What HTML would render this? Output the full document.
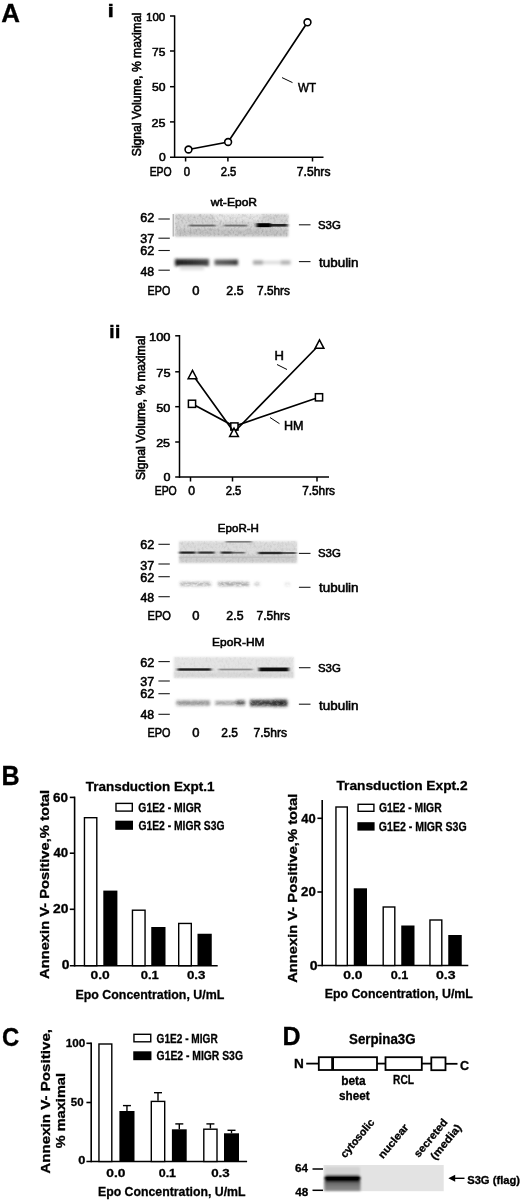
<!DOCTYPE html>
<html><head><meta charset="utf-8"><style>
html,body{margin:0;padding:0;background:#fff;overflow:hidden;}
svg{display:block;filter:blur(0.35px);}
text{font-family:"Liberation Sans", sans-serif;fill:#000;}
</style></head><body>
<svg width="520" height="1200" viewBox="0 0 520 1200">
<defs>
<filter id="bl1" x="-10%" y="-30%" width="120%" height="160%"><feGaussianBlur stdDeviation="0.8"/></filter>
<filter id="bl2" x="-20%" y="-100%" width="140%" height="300%"><feGaussianBlur stdDeviation="0.9"/></filter>
<filter id="bl3" x="-20%" y="-100%" width="140%" height="300%"><feGaussianBlur stdDeviation="1.4"/></filter>
<linearGradient id="gtub1" x1="0" x2="1" y1="0" y2="0"><stop offset="0" stop-color="#1c1c1c"/><stop offset="0.5" stop-color="#2e2e2e"/><stop offset="1" stop-color="#484848"/></linearGradient>
<linearGradient id="gtub2" x1="0" x2="1" y1="0" y2="0"><stop offset="0" stop-color="#626262"/><stop offset="0.7" stop-color="#4a4a4a"/><stop offset="1" stop-color="#303030"/></linearGradient>
<filter id="bl4" x="-20%" y="-200%" width="140%" height="500%"><feGaussianBlur stdDeviation="1.6 0.55"/></filter>
<linearGradient id="gsm" x1="0" x2="0" y1="0" y2="1"><stop offset="0" stop-color="#5a5a5a"/><stop offset="0.5" stop-color="#7a7a7a"/><stop offset="1" stop-color="#8e8e8e"/></linearGradient>
<filter id="nzw" x="0" y="0" width="100%" height="100%">
<feTurbulence type="fractalNoise" baseFrequency="0.3 0.45" numOctaves="3" seed="19" result="t"/>
<feColorMatrix in="t" type="matrix" values="0 0 0 0 1  0 0 0 0 1  0 0 0 0 1  0 0 0 2.2 -0.9" result="a"/>
<feComposite in="a" in2="SourceGraphic" operator="in"/>
</filter>
<filter id="nz" x="0" y="0" width="100%" height="100%">
<feTurbulence type="fractalNoise" baseFrequency="0.5 0.35" numOctaves="2" seed="11" result="t"/>
<feGaussianBlur in="t" stdDeviation="0.35" result="tb"/>
<feColorMatrix in="tb" type="matrix" values="0 0 0 0 0  0 0 0 0 0  0 0 0 0 0  0 0 0 1.5 -0.62" result="a"/>
<feComposite in="a" in2="SourceGraphic" operator="in"/>
</filter>
</defs>
<rect width="520" height="1200" fill="#fff"/>
<g filter="url(#bl1)">
<rect x="174.5" y="214" width="114" height="22.5" fill="#d4d4d4"/>
<rect x="214" y="214" width="48" height="7" fill="#e4e4e4"/>
<rect x="176" y="229" width="112" height="7.5" fill="#c4c4c4"/>
</g>
<rect x="174.5" y="214" width="114" height="22.5" fill="#000" filter="url(#nz)" opacity="0.22"/>
<line x1="173.2" y1="214" x2="173.2" y2="236.5" stroke="#888" stroke-width="0.8"/>
<g filter="url(#bl4)">
<rect x="189" y="224.6" width="26.5" height="1.9" fill="#6a6a6a"/>
<rect x="224" y="224.6" width="23" height="1.9" fill="#707070"/>
<rect x="256.5" y="223.2" width="14.5" height="4" fill="#000"/>
<rect x="270.5" y="224" width="17" height="2.6" fill="#222"/>
</g>
<g filter="url(#bl3)">
<rect x="175" y="259" width="34" height="7" fill="url(#gtub1)"/>
<rect x="214.5" y="259.6" width="23.5" height="5.6" fill="url(#gtub2)"/>
<rect x="253" y="260.5" width="10" height="4" fill="#a0a0a0"/>
<rect x="263" y="261" width="17" height="3" fill="#d8d8d8"/>
<rect x="280.5" y="260.5" width="10" height="4" fill="#acacac"/>
<rect x="180" y="267" width="24" height="3" fill="#dcdcdc"/>
</g>
<g filter="url(#bl1)">
<rect x="179" y="541.2" width="118" height="21.8" fill="#dcdcdc"/>
<rect x="179" y="555" width="118" height="8" fill="#cfcfcf"/>
</g>
<rect x="179" y="541.2" width="118" height="21.8" fill="#000" filter="url(#nz)" opacity="0.12"/>
<g filter="url(#bl4)">
<rect x="179.5" y="551.5" width="16" height="2.2" fill="#222"/>
<rect x="198" y="551.5" width="16.5" height="2.2" fill="#333"/>
<rect x="220.8" y="551.5" width="11.5" height="2.2" fill="#2a2a2a"/>
<rect x="232" y="551.8" width="13" height="1.8" fill="#666"/>
<rect x="258.3" y="551.8" width="24" height="2.4" fill="#2a2a2a"/>
<rect x="282" y="552" width="14" height="2" fill="#555"/>
<rect x="180" y="556.6" width="115" height="1.2" fill="#bdbdbd"/>
<rect x="225.8" y="541.2" width="26" height="1.3" fill="#666"/>
</g>
<g filter="url(#bl3)">
<rect x="180" y="582" width="31" height="4" fill="#b0b0b0"/>
<rect x="218" y="582" width="31" height="4" fill="#a0a0a0"/>
<rect x="254.5" y="582.5" width="5" height="3" fill="#bbb"/>
<rect x="285.5" y="583" width="4" height="2.5" fill="#ccc"/>
</g>
<rect x="178" y="579" width="114" height="9" fill="#fff" filter="url(#nzw)" opacity="0.7"/>
<g filter="url(#bl1)">
<rect x="173.8" y="657" width="120" height="21" fill="#e4e4e4"/>
<rect x="173.8" y="672" width="120" height="6" fill="#d9d9d9"/>
</g>
<rect x="173.8" y="657" width="120" height="21" fill="#000" filter="url(#nz)" opacity="0.07"/>
<g filter="url(#bl4)">
<rect x="177.5" y="668.3" width="33.7" height="2.4" fill="#1a1a1a"/>
<rect x="218.8" y="668.6" width="33.7" height="1.8" fill="#8a8a8a"/>
<rect x="258.8" y="667.5" width="30" height="3.8" fill="#111"/>
</g>
<g filter="url(#bl3)">
<rect x="176.3" y="700.5" width="33.7" height="5" fill="#8f8f8f"/>
<rect x="215" y="701" width="22" height="4" fill="#999"/>
<rect x="236" y="700.3" width="9" height="5" fill="#555"/>
<rect x="250" y="699.8" width="37.5" height="6.4" fill="#3a3a3a"/>
<rect x="272" y="699.8" width="15" height="6.5" fill="#262626"/>
</g>
<rect x="174" y="697" width="116" height="12" fill="#fff" filter="url(#nzw)" opacity="0.3"/>
<rect x="323.5" y="1165" width="120.2" height="26.2" fill="#e3e3e3"/>
<g filter="url(#bl2)">
<rect x="325" y="1167" width="35" height="8" fill="#d2d2d2"/>
<rect x="324.5" y="1181" width="36" height="10" fill="url(#gsm)"/>
<rect x="324.5" y="1175" width="36" height="6.8" rx="3" fill="#030303"/>
</g>
<text x="1.15" y="21.5" font-size="26.6" font-weight="bold" stroke="#000" stroke-width="0.3" textLength="18.73" lengthAdjust="spacingAndGlyphs">A</text>
<text x="107.47" y="16.8" font-size="18.6" font-weight="bold" stroke="#000" stroke-width="0.3" textLength="6.48" lengthAdjust="spacingAndGlyphs">i</text>
<line x1="174.6" y1="15.4" x2="174.6" y2="157.9" stroke="#000" stroke-width="1.5"/>
<line x1="170" y1="157.2" x2="323.5" y2="157.2" stroke="#000" stroke-width="1.5"/>
<line x1="170" y1="16" x2="174.6" y2="16" stroke="#000" stroke-width="1.5"/>
<line x1="170" y1="51" x2="174.6" y2="51" stroke="#000" stroke-width="1.5"/>
<line x1="170" y1="86.7" x2="174.6" y2="86.7" stroke="#000" stroke-width="1.5"/>
<line x1="170" y1="121.9" x2="174.6" y2="121.9" stroke="#000" stroke-width="1.5"/>
<line x1="185.6" y1="157" x2="185.6" y2="161.5" stroke="#000" stroke-width="1.5"/>
<line x1="227.9" y1="157" x2="227.9" y2="161.5" stroke="#000" stroke-width="1.5"/>
<line x1="312.5" y1="157" x2="312.5" y2="161.5" stroke="#000" stroke-width="1.5"/>
<text x="146.02" y="20.8" font-size="11.8" stroke="#000" stroke-width="0.55" textLength="19.23" lengthAdjust="spacingAndGlyphs">100</text>
<text x="151.99" y="56.3" font-size="11.8" stroke="#000" stroke-width="0.55" textLength="13.32" lengthAdjust="spacingAndGlyphs">75</text>
<text x="151.91" y="91.3" font-size="11.8" stroke="#000" stroke-width="0.55" textLength="13.56" lengthAdjust="spacingAndGlyphs">50</text>
<text x="151.57" y="126.7" font-size="11.8" stroke="#000" stroke-width="0.55" textLength="13.96" lengthAdjust="spacingAndGlyphs">25</text>
<text x="158.93" y="161.3" font-size="11.8" stroke="#000" stroke-width="0.55" textLength="6.75" lengthAdjust="spacingAndGlyphs">0</text>
<text x="149.64" y="175.9" font-size="12" stroke="#000" stroke-width="0.55" textLength="22.06" lengthAdjust="spacingAndGlyphs">EPO</text>
<text x="183.76" y="175.9" font-size="12" stroke="#000" stroke-width="0.55" textLength="6.28" lengthAdjust="spacingAndGlyphs">0</text>
<text x="220.63" y="175.9" font-size="12" stroke="#000" stroke-width="0.55" textLength="15.64" lengthAdjust="spacingAndGlyphs">2.5</text>
<text x="296.88" y="175.9" font-size="12" stroke="#000" stroke-width="0.55" textLength="33.56" lengthAdjust="spacingAndGlyphs">7.5hrs</text>
<text transform="translate(140.5 155.6) rotate(-90)" x="-0.55" y="0" font-size="12.2" stroke="#000" stroke-width="0.6" textLength="143.25" lengthAdjust="spacingAndGlyphs">Signal Volume, % maximal</text>
<polyline points="188.5,149.5 228.1,142 307.5,22.3" fill="none" stroke="#000" stroke-width="1.7"/>
<circle cx="188.5" cy="149.5" r="3.4" fill="#fff" stroke="#000" stroke-width="1.6"/>
<circle cx="228.1" cy="142" r="3.4" fill="#fff" stroke="#000" stroke-width="1.6"/>
<circle cx="307.5" cy="22.3" r="3.4" fill="#fff" stroke="#000" stroke-width="1.6"/>
<line x1="282" y1="77.6" x2="292.5" y2="82.6" stroke="#000" stroke-width="1.0"/>
<text x="297.95" y="92" font-size="13.5" stroke="#000" stroke-width="0.55" textLength="18.07" lengthAdjust="spacingAndGlyphs">WT</text>
<text x="210.82" y="205.7" font-size="11.5" stroke="#000" stroke-width="0.55" textLength="46.24" lengthAdjust="spacingAndGlyphs">wt-EpoR</text>
<text x="140.16" y="222.3" font-size="12.2" stroke="#000" stroke-width="0.55" textLength="14.08" lengthAdjust="spacingAndGlyphs">62</text>
<line x1="158.4" y1="219.0" x2="169.8" y2="219.0" stroke="#1a1a1a" stroke-width="1.1"/>
<text x="140.32" y="243" font-size="12.2" stroke="#000" stroke-width="0.55" textLength="13.90" lengthAdjust="spacingAndGlyphs">37</text>
<line x1="158.4" y1="238.2" x2="169.8" y2="238.2" stroke="#1a1a1a" stroke-width="1.1"/>
<text x="140.16" y="255" font-size="12.2" stroke="#000" stroke-width="0.55" textLength="14.08" lengthAdjust="spacingAndGlyphs">62</text>
<line x1="158.4" y1="250.5" x2="169.8" y2="250.5" stroke="#1a1a1a" stroke-width="1.1"/>
<text x="140.52" y="275.8" font-size="12.2" stroke="#000" stroke-width="0.55" textLength="13.61" lengthAdjust="spacingAndGlyphs">48</text>
<line x1="158.4" y1="270.2" x2="169.8" y2="270.2" stroke="#1a1a1a" stroke-width="1.1"/>
<line x1="298.9" y1="224.8" x2="310.5" y2="224.8" stroke="#1a1a1a" stroke-width="1.1"/>
<text x="317.98" y="228.6" font-size="11.3" stroke="#000" stroke-width="0.55" textLength="22.87" lengthAdjust="spacingAndGlyphs">S3G</text>
<line x1="298.9" y1="261.6" x2="310.5" y2="261.6" stroke="#1a1a1a" stroke-width="1.1"/>
<text x="319.00" y="266.6" font-size="12.3" stroke="#000" stroke-width="0.55" textLength="39.58" lengthAdjust="spacingAndGlyphs">tubulin</text>
<text x="147.62" y="294.7" font-size="12" stroke="#000" stroke-width="0.55" textLength="22.59" lengthAdjust="spacingAndGlyphs">EPO</text>
<text x="192.29" y="294.7" font-size="12" stroke="#000" stroke-width="0.55" textLength="7.21" lengthAdjust="spacingAndGlyphs">0</text>
<text x="226.38" y="294.7" font-size="12" stroke="#000" stroke-width="0.55" textLength="17.14" lengthAdjust="spacingAndGlyphs">2.5</text>
<text x="257.09" y="294.7" font-size="12" stroke="#000" stroke-width="0.55" textLength="32.83" lengthAdjust="spacingAndGlyphs">7.5hrs</text>
<text x="109.05" y="337.7" font-size="19.2" font-weight="bold" stroke="#000" stroke-width="0.3" textLength="11.51" lengthAdjust="spacingAndGlyphs">ii</text>
<line x1="179.5" y1="335" x2="179.5" y2="477.9" stroke="#000" stroke-width="1.5"/>
<line x1="175.2" y1="477.1" x2="329" y2="477.1" stroke="#000" stroke-width="1.5"/>
<line x1="175.2" y1="335.8" x2="179.5" y2="335.8" stroke="#000" stroke-width="1.5"/>
<line x1="175.2" y1="371.8" x2="179.5" y2="371.8" stroke="#000" stroke-width="1.5"/>
<line x1="175.2" y1="406.7" x2="179.5" y2="406.7" stroke="#000" stroke-width="1.5"/>
<line x1="175.2" y1="442" x2="179.5" y2="442" stroke="#000" stroke-width="1.5"/>
<line x1="190.5" y1="477" x2="190.5" y2="481.5" stroke="#000" stroke-width="1.5"/>
<line x1="232.5" y1="477" x2="232.5" y2="481.5" stroke="#000" stroke-width="1.5"/>
<line x1="317" y1="477" x2="317" y2="481.5" stroke="#000" stroke-width="1.5"/>
<text x="149.02" y="341.3" font-size="11.8" stroke="#000" stroke-width="0.55" textLength="21.48" lengthAdjust="spacingAndGlyphs">100</text>
<text x="156.35" y="376.7" font-size="11.8" stroke="#000" stroke-width="0.55" textLength="14.19" lengthAdjust="spacingAndGlyphs">75</text>
<text x="156.29" y="412" font-size="11.8" stroke="#000" stroke-width="0.55" textLength="14.10" lengthAdjust="spacingAndGlyphs">50</text>
<text x="156.17" y="447.4" font-size="11.8" stroke="#000" stroke-width="0.55" textLength="13.85" lengthAdjust="spacingAndGlyphs">25</text>
<text x="163.41" y="481" font-size="11.8" stroke="#000" stroke-width="0.55" textLength="6.98" lengthAdjust="spacingAndGlyphs">0</text>
<text x="154.64" y="494.9" font-size="12" stroke="#000" stroke-width="0.55" textLength="22.16" lengthAdjust="spacingAndGlyphs">EPO</text>
<text x="188.23" y="494.9" font-size="12" stroke="#000" stroke-width="0.55" textLength="6.75" lengthAdjust="spacingAndGlyphs">0</text>
<text x="225.63" y="494.9" font-size="12" stroke="#000" stroke-width="0.55" textLength="15.64" lengthAdjust="spacingAndGlyphs">2.5</text>
<text x="302.19" y="494.9" font-size="12" stroke="#000" stroke-width="0.55" textLength="32.83" lengthAdjust="spacingAndGlyphs">7.5hrs</text>
<text transform="translate(145.4 479.5) rotate(-90)" x="-0.55" y="0" font-size="12.2" stroke="#000" stroke-width="0.6" textLength="144.26" lengthAdjust="spacingAndGlyphs">Signal Volume, % maximal</text>
<polyline points="192,403.8 234.2,426.3 319,397.3" fill="none" stroke="#000" stroke-width="1.7"/>
<rect x="188.4" y="400.2" width="7.2" height="7.2" fill="#fff" stroke="#000" stroke-width="1.5"/>
<rect x="230.8" y="422.9" width="7.2" height="7.2" fill="#fff" stroke="#000" stroke-width="1.5"/>
<rect x="315.4" y="393.7" width="7.2" height="7.2" fill="#fff" stroke="#000" stroke-width="1.5"/>
<polyline points="192.5,374.5 234,432.3 319.5,344.5" fill="none" stroke="#000" stroke-width="1.7"/>
<polygon points="192.5,370.3 196.9,378.7 188.1,378.7" fill="#fff" stroke="#000" stroke-width="1.5" stroke-linejoin="miter"/>
<polygon points="234,428.2 238.4,436.59999999999997 229.6,436.59999999999997" fill="#fff" stroke="#000" stroke-width="1.5" stroke-linejoin="miter"/>
<polygon points="319.5,339.9 323.9,348.29999999999995 315.1,348.29999999999995" fill="#fff" stroke="#000" stroke-width="1.5" stroke-linejoin="miter"/>
<line x1="277" y1="364.5" x2="287" y2="369.5" stroke="#000" stroke-width="1.0"/>
<text x="274.63" y="360" font-size="13" stroke="#000" stroke-width="0.55" textLength="9.44" lengthAdjust="spacingAndGlyphs">H</text>
<line x1="270" y1="417.5" x2="279.5" y2="423.7" stroke="#000" stroke-width="1.0"/>
<text x="283.97" y="429.5" font-size="13" stroke="#000" stroke-width="0.55" textLength="19.56" lengthAdjust="spacingAndGlyphs">HM</text>
<text x="217.85" y="532" font-size="11.5" stroke="#000" stroke-width="0.55" textLength="41.09" lengthAdjust="spacingAndGlyphs">EpoR-H</text>
<text x="140.16" y="549" font-size="12.2" stroke="#000" stroke-width="0.55" textLength="14.08" lengthAdjust="spacingAndGlyphs">62</text>
<line x1="158.4" y1="544.3000000000001" x2="169.8" y2="544.3000000000001" stroke="#1a1a1a" stroke-width="1.1"/>
<text x="140.32" y="569.5" font-size="12.2" stroke="#000" stroke-width="0.55" textLength="13.90" lengthAdjust="spacingAndGlyphs">37</text>
<line x1="158.4" y1="564.0" x2="169.8" y2="564.0" stroke="#1a1a1a" stroke-width="1.1"/>
<text x="140.16" y="581.5" font-size="12.2" stroke="#000" stroke-width="0.55" textLength="14.08" lengthAdjust="spacingAndGlyphs">62</text>
<line x1="158.4" y1="576.7" x2="169.8" y2="576.7" stroke="#1a1a1a" stroke-width="1.1"/>
<text x="140.52" y="602" font-size="12.2" stroke="#000" stroke-width="0.55" textLength="13.61" lengthAdjust="spacingAndGlyphs">48</text>
<line x1="158.4" y1="596.7" x2="169.8" y2="596.7" stroke="#1a1a1a" stroke-width="1.1"/>
<line x1="298.9" y1="553.4" x2="310.5" y2="553.4" stroke="#1a1a1a" stroke-width="1.1"/>
<text x="317.98" y="557.3" font-size="11.3" stroke="#000" stroke-width="0.55" textLength="22.87" lengthAdjust="spacingAndGlyphs">S3G</text>
<line x1="298.9" y1="587.3" x2="310.5" y2="587.3" stroke="#1a1a1a" stroke-width="1.1"/>
<text x="319.00" y="592" font-size="12.3" stroke="#000" stroke-width="0.55" textLength="39.58" lengthAdjust="spacingAndGlyphs">tubulin</text>
<text x="147.59" y="619.6" font-size="12" stroke="#000" stroke-width="0.55" textLength="23.34" lengthAdjust="spacingAndGlyphs">EPO</text>
<text x="192.29" y="619.6" font-size="12" stroke="#000" stroke-width="0.55" textLength="7.21" lengthAdjust="spacingAndGlyphs">0</text>
<text x="226.38" y="619.6" font-size="12" stroke="#000" stroke-width="0.55" textLength="17.14" lengthAdjust="spacingAndGlyphs">2.5</text>
<text x="256.58" y="619.6" font-size="12" stroke="#000" stroke-width="0.55" textLength="33.35" lengthAdjust="spacingAndGlyphs">7.5hrs</text>
<text x="212.02" y="646" font-size="11.5" stroke="#000" stroke-width="0.55" textLength="52.46" lengthAdjust="spacingAndGlyphs">EpoR-HM</text>
<text x="140.16" y="666.5" font-size="12.2" stroke="#000" stroke-width="0.55" textLength="14.08" lengthAdjust="spacingAndGlyphs">62</text>
<line x1="158.4" y1="661.6" x2="169.8" y2="661.6" stroke="#1a1a1a" stroke-width="1.1"/>
<text x="140.32" y="686" font-size="12.2" stroke="#000" stroke-width="0.55" textLength="13.90" lengthAdjust="spacingAndGlyphs">37</text>
<line x1="158.4" y1="681.0" x2="169.8" y2="681.0" stroke="#1a1a1a" stroke-width="1.1"/>
<text x="140.16" y="698" font-size="12.2" stroke="#000" stroke-width="0.55" textLength="14.08" lengthAdjust="spacingAndGlyphs">62</text>
<line x1="158.4" y1="693.7" x2="169.8" y2="693.7" stroke="#1a1a1a" stroke-width="1.1"/>
<text x="140.52" y="718.8" font-size="12.2" stroke="#000" stroke-width="0.55" textLength="13.61" lengthAdjust="spacingAndGlyphs">48</text>
<line x1="158.4" y1="714.3000000000001" x2="169.8" y2="714.3000000000001" stroke="#1a1a1a" stroke-width="1.1"/>
<line x1="298.9" y1="667.7" x2="310.5" y2="667.7" stroke="#1a1a1a" stroke-width="1.1"/>
<text x="317.98" y="671.6" font-size="11.3" stroke="#000" stroke-width="0.55" textLength="22.87" lengthAdjust="spacingAndGlyphs">S3G</text>
<line x1="298.9" y1="704.2" x2="310.5" y2="704.2" stroke="#1a1a1a" stroke-width="1.1"/>
<text x="319.00" y="710" font-size="12.3" stroke="#000" stroke-width="0.55" textLength="39.58" lengthAdjust="spacingAndGlyphs">tubulin</text>
<text x="147.61" y="736.5" font-size="12" stroke="#000" stroke-width="0.55" textLength="22.91" lengthAdjust="spacingAndGlyphs">EPO</text>
<text x="192.29" y="736.5" font-size="12" stroke="#000" stroke-width="0.55" textLength="7.21" lengthAdjust="spacingAndGlyphs">0</text>
<text x="221.30" y="736.5" font-size="12" stroke="#000" stroke-width="0.55" textLength="16.60" lengthAdjust="spacingAndGlyphs">2.5</text>
<text x="253.58" y="736.5" font-size="12" stroke="#000" stroke-width="0.55" textLength="33.45" lengthAdjust="spacingAndGlyphs">7.5hrs</text>
<text x="1.52" y="785.4" font-size="27" font-weight="bold" stroke="#000" stroke-width="0.3" textLength="18.12" lengthAdjust="spacingAndGlyphs">B</text>
<line x1="74.6" y1="796.6" x2="74.6" y2="966.5" stroke="#000" stroke-width="1.6"/>
<line x1="69.8" y1="965.7" x2="217.7" y2="965.7" stroke="#000" stroke-width="1.6"/>
<line x1="69.8" y1="797.4" x2="74.6" y2="797.4" stroke="#000" stroke-width="1.6"/>
<line x1="69.8" y1="853.2" x2="74.6" y2="853.2" stroke="#000" stroke-width="1.6"/>
<line x1="69.8" y1="909.3" x2="74.6" y2="909.3" stroke="#000" stroke-width="1.6"/>
<rect x="84.45" y="817.70" width="12.35" height="148.00" fill="#fff" stroke="#000" stroke-width="1.4" />
<rect x="103.30" y="890.60" width="14.10" height="75.10" fill="#000" />
<rect x="132.45" y="910.20" width="12.60" height="55.50" fill="#fff" stroke="#000" stroke-width="1.4" />
<rect x="151.25" y="927.00" width="14.25" height="38.70" fill="#000" />
<rect x="178.70" y="923.45" width="12.60" height="42.25" fill="#fff" stroke="#000" stroke-width="1.4" />
<rect x="197.50" y="933.75" width="14.25" height="31.95" fill="#000" />
<text x="53.10" y="801.9" font-size="12.3" font-weight="bold" stroke="#000" stroke-width="0.3" textLength="15.05" lengthAdjust="spacingAndGlyphs">60</text>
<text x="53.40" y="857.2" font-size="12.3" font-weight="bold" stroke="#000" stroke-width="0.3" textLength="14.74" lengthAdjust="spacingAndGlyphs">40</text>
<text x="53.12" y="913.2" font-size="12.3" font-weight="bold" stroke="#000" stroke-width="0.3" textLength="15.45" lengthAdjust="spacingAndGlyphs">20</text>
<text x="61.85" y="969.4" font-size="12.3" font-weight="bold" stroke="#000" stroke-width="0.3" textLength="7.72" lengthAdjust="spacingAndGlyphs">0</text>
<text x="90.55" y="979" font-size="11.8" font-weight="bold" stroke="#000" stroke-width="0.3" textLength="19.21" lengthAdjust="spacingAndGlyphs">0.0</text>
<text x="140.79" y="979" font-size="11.8" font-weight="bold" stroke="#000" stroke-width="0.3" textLength="18.08" lengthAdjust="spacingAndGlyphs">0.1</text>
<text x="186.97" y="979" font-size="11.8" font-weight="bold" stroke="#000" stroke-width="0.3" textLength="18.51" lengthAdjust="spacingAndGlyphs">0.3</text>
<text x="75.47" y="998.6" font-size="13.4" font-weight="bold" stroke="#000" stroke-width="0.3" textLength="148.81" lengthAdjust="spacingAndGlyphs">Epo Concentration, U/mL</text>
<text transform="translate(49.3 978.6) rotate(-90)" x="-0.37" y="0" font-size="13.2" font-weight="bold" stroke="#000" stroke-width="0.3" textLength="189.10" lengthAdjust="spacingAndGlyphs">Annexin V- Positive,% total</text>
<text x="85.75" y="790.6" font-size="13.4" font-weight="bold" stroke="#000" stroke-width="0.3" textLength="128.62" lengthAdjust="spacingAndGlyphs">Transduction Expt.1</text>
<rect x="116.00" y="803.40" width="16.30" height="7.70" fill="#fff" stroke="#000" stroke-width="1.4" />
<rect x="115.30" y="820.70" width="17.70" height="9.10" fill="#000" />
<text x="138.37" y="812.3" font-size="12.5" font-weight="bold" stroke="#000" stroke-width="0.3" textLength="62.84" lengthAdjust="spacingAndGlyphs">G1E2 - MIGR</text>
<text x="138.38" y="830.3" font-size="12.5" font-weight="bold" stroke="#000" stroke-width="0.3" textLength="86.06" lengthAdjust="spacingAndGlyphs">G1E2 - MIGR S3G</text>
<line x1="322.2" y1="800" x2="322.2" y2="966.3" stroke="#000" stroke-width="1.6"/>
<line x1="317.4" y1="965.5" x2="468.3" y2="965.5" stroke="#000" stroke-width="1.6"/>
<line x1="317.4" y1="818.3" x2="322.2" y2="818.3" stroke="#000" stroke-width="1.6"/>
<line x1="317.4" y1="892" x2="322.2" y2="892" stroke="#000" stroke-width="1.6"/>
<rect x="335.95" y="807.00" width="11.35" height="158.50" fill="#fff" stroke="#000" stroke-width="1.4" />
<rect x="353.75" y="888.30" width="13.25" height="77.20" fill="#000" />
<rect x="383.20" y="907.00" width="11.60" height="58.50" fill="#fff" stroke="#000" stroke-width="1.4" />
<rect x="401.25" y="925.50" width="13.25" height="40.00" fill="#000" />
<rect x="429.95" y="920.00" width="11.85" height="45.50" fill="#fff" stroke="#000" stroke-width="1.4" />
<rect x="448.25" y="935.00" width="13.50" height="30.50" fill="#000" />
<text x="301.30" y="823" font-size="12.3" font-weight="bold" stroke="#000" stroke-width="0.3" textLength="14.43" lengthAdjust="spacingAndGlyphs">40</text>
<text x="301.04" y="896.4" font-size="12.3" font-weight="bold" stroke="#000" stroke-width="0.3" textLength="14.70" lengthAdjust="spacingAndGlyphs">20</text>
<text x="309.74" y="969.5" font-size="12.3" font-weight="bold" stroke="#000" stroke-width="0.3" textLength="7.84" lengthAdjust="spacingAndGlyphs">0</text>
<text x="343.35" y="979" font-size="11.8" font-weight="bold" stroke="#000" stroke-width="0.3" textLength="19.21" lengthAdjust="spacingAndGlyphs">0.0</text>
<text x="390.80" y="979" font-size="11.8" font-weight="bold" stroke="#000" stroke-width="0.3" textLength="17.55" lengthAdjust="spacingAndGlyphs">0.1</text>
<text x="435.94" y="979" font-size="11.8" font-weight="bold" stroke="#000" stroke-width="0.3" textLength="19.57" lengthAdjust="spacingAndGlyphs">0.3</text>
<text x="324.67" y="997.6" font-size="13.4" font-weight="bold" stroke="#000" stroke-width="0.3" textLength="148.21" lengthAdjust="spacingAndGlyphs">Epo Concentration, U/mL</text>
<text transform="translate(297.1 982.5) rotate(-90)" x="-0.37" y="0" font-size="13.2" font-weight="bold" stroke="#000" stroke-width="0.3" textLength="189.10" lengthAdjust="spacingAndGlyphs">Annexin V- Positive,% total</text>
<text x="336.45" y="790.2" font-size="13.4" font-weight="bold" stroke="#000" stroke-width="0.3" textLength="131.10" lengthAdjust="spacingAndGlyphs">Transduction Expt.2</text>
<rect x="358.10" y="804.30" width="15.80" height="7.00" fill="#fff" stroke="#000" stroke-width="1.4" />
<rect x="357.40" y="822.20" width="17.20" height="8.40" fill="#000" />
<text x="378.88" y="812.4" font-size="12.5" font-weight="bold" stroke="#000" stroke-width="0.3" textLength="62.74" lengthAdjust="spacingAndGlyphs">G1E2 - MIGR</text>
<text x="378.87" y="830.5" font-size="12.5" font-weight="bold" stroke="#000" stroke-width="0.3" textLength="87.79" lengthAdjust="spacingAndGlyphs">G1E2 - MIGR S3G</text>
<text x="1.92" y="1046.4" font-size="26.5" font-weight="bold" stroke="#000" stroke-width="0.3" textLength="17.23" lengthAdjust="spacingAndGlyphs">C</text>
<line x1="91.2" y1="1042.6" x2="91.2" y2="1162.3" stroke="#000" stroke-width="1.6"/>
<line x1="86.4" y1="1161.5" x2="247.1" y2="1161.5" stroke="#000" stroke-width="1.6"/>
<line x1="86.4" y1="1043.3" x2="91.2" y2="1043.3" stroke="#000" stroke-width="1.6"/>
<line x1="86.4" y1="1102.5" x2="91.2" y2="1102.5" stroke="#000" stroke-width="1.6"/>
<rect x="98.95" y="1044.00" width="12.85" height="117.50" fill="#fff" stroke="#000" stroke-width="1.4" />
<rect x="119.40" y="1111.00" width="15.10" height="50.50" fill="#000" />
<rect x="151.30" y="1101.40" width="13.40" height="60.10" fill="#fff" stroke="#000" stroke-width="1.4" />
<rect x="171.90" y="1129.30" width="14.80" height="32.20" fill="#000" />
<rect x="203.80" y="1129.20" width="13.20" height="32.30" fill="#fff" stroke="#000" stroke-width="1.4" />
<rect x="224.00" y="1133.30" width="15.00" height="28.20" fill="#000" />
<line x1="126.95" y1="1105.6" x2="126.95" y2="1111" stroke="#000" stroke-width="1.4"/>
<line x1="122.95" y1="1105.6" x2="130.95" y2="1105.6" stroke="#000" stroke-width="1.4"/>
<line x1="158.0" y1="1092.7" x2="158.0" y2="1100.7" stroke="#000" stroke-width="1.4"/>
<line x1="154.0" y1="1092.7" x2="162.0" y2="1092.7" stroke="#000" stroke-width="1.4"/>
<line x1="179.3" y1="1123.9" x2="179.3" y2="1129.3" stroke="#000" stroke-width="1.4"/>
<line x1="175.3" y1="1123.9" x2="183.3" y2="1123.9" stroke="#000" stroke-width="1.4"/>
<line x1="210.39999999999998" y1="1123.9" x2="210.39999999999998" y2="1128.5" stroke="#000" stroke-width="1.4"/>
<line x1="206.39999999999998" y1="1123.9" x2="214.39999999999998" y2="1123.9" stroke="#000" stroke-width="1.4"/>
<line x1="231.5" y1="1130.3" x2="231.5" y2="1133.3" stroke="#000" stroke-width="1.4"/>
<line x1="227.5" y1="1130.3" x2="235.5" y2="1130.3" stroke="#000" stroke-width="1.4"/>
<text x="65.86" y="1047" font-size="11.3" font-weight="bold" stroke="#000" stroke-width="0.3" textLength="19.52" lengthAdjust="spacingAndGlyphs">100</text>
<text x="70.85" y="1106.3" font-size="11.3" font-weight="bold" stroke="#000" stroke-width="0.3" textLength="12.72" lengthAdjust="spacingAndGlyphs">50</text>
<text x="78.39" y="1163.7" font-size="11.3" font-weight="bold" stroke="#000" stroke-width="0.3" textLength="7.13" lengthAdjust="spacingAndGlyphs">0</text>
<text x="106.36" y="1176.9" font-size="11.8" font-weight="bold" stroke="#000" stroke-width="0.3" textLength="19.11" lengthAdjust="spacingAndGlyphs">0.0</text>
<text x="158.71" y="1176.9" font-size="11.8" font-weight="bold" stroke="#000" stroke-width="0.3" textLength="17.34" lengthAdjust="spacingAndGlyphs">0.1</text>
<text x="211.17" y="1176.9" font-size="11.8" font-weight="bold" stroke="#000" stroke-width="0.3" textLength="18.51" lengthAdjust="spacingAndGlyphs">0.3</text>
<text x="97.93" y="1196" font-size="13.4" font-weight="bold" stroke="#000" stroke-width="0.3" textLength="147.65" lengthAdjust="spacingAndGlyphs">Epo Concentration, U/mL</text>
<text transform="translate(49.7 1173.3) rotate(-90)" x="-0.37" y="0" font-size="13.2" font-weight="bold" stroke="#000" stroke-width="0.3" textLength="144.68" lengthAdjust="spacingAndGlyphs">Annexin V- Positive,</text>
<text transform="translate(65 1148) rotate(-90)" x="-0.36" y="0" font-size="13.2" font-weight="bold" stroke="#000" stroke-width="0.3" textLength="75.40" lengthAdjust="spacingAndGlyphs">% maximal</text>
<rect x="133.95" y="1034.30" width="16.80" height="7.50" fill="#fff" stroke="#000" stroke-width="1.4" />
<rect x="133.25" y="1051.30" width="18.20" height="8.90" fill="#000" />
<text x="156.59" y="1043" font-size="12.3" font-weight="bold" stroke="#000" stroke-width="0.3" textLength="61.12" lengthAdjust="spacingAndGlyphs">G1E2 - MIGR</text>
<text x="156.58" y="1060.4" font-size="12.3" font-weight="bold" stroke="#000" stroke-width="0.3" textLength="86.37" lengthAdjust="spacingAndGlyphs">G1E2 - MIGR S3G</text>
<text x="282.42" y="1044.8" font-size="26.6" font-weight="bold" stroke="#000" stroke-width="0.3" textLength="18.13" lengthAdjust="spacingAndGlyphs">D</text>
<text x="349.02" y="1044.4" font-size="13.8" font-weight="bold" stroke="#000" stroke-width="0.3" textLength="66.61" lengthAdjust="spacingAndGlyphs">Serpina3G</text>
<text x="294.09" y="1068.2" font-size="12.3" font-weight="bold" stroke="#000" stroke-width="0.3" textLength="9.83" lengthAdjust="spacingAndGlyphs">N</text>
<text x="459.98" y="1070" font-size="12.3" font-weight="bold" stroke="#000" stroke-width="0.3" textLength="9.11" lengthAdjust="spacingAndGlyphs">C</text>
<line x1="306.2" y1="1063.6" x2="318.8" y2="1063.6" stroke="#000" stroke-width="1.8"/>
<rect x="318.80" y="1057.20" width="58.20" height="12.80" fill="#fff" stroke="#000" stroke-width="1.8" />
<line x1="332.6" y1="1057.2" x2="332.6" y2="1070" stroke="#000" stroke-width="2.8"/>
<line x1="377" y1="1063.6" x2="385.5" y2="1063.6" stroke="#000" stroke-width="1.8"/>
<rect x="385.50" y="1057.20" width="36.30" height="12.80" fill="#fff" stroke="#000" stroke-width="1.8" />
<line x1="421.8" y1="1063.6" x2="431.3" y2="1063.6" stroke="#000" stroke-width="1.8"/>
<rect x="431.30" y="1057.40" width="14.20" height="12.80" fill="#fff" stroke="#000" stroke-width="1.8" />
<line x1="445.5" y1="1063.8" x2="457.5" y2="1063.8" stroke="#000" stroke-width="1.8"/>
<text x="341.22" y="1084.5" font-size="12.3" font-weight="bold" stroke="#000" stroke-width="0.3" textLength="24.46" lengthAdjust="spacingAndGlyphs">beta</text>
<text x="339.09" y="1100" font-size="12.3" font-weight="bold" stroke="#000" stroke-width="0.3" textLength="30.55" lengthAdjust="spacingAndGlyphs">sheet</text>
<text x="393.12" y="1084.3" font-size="12.3" font-weight="bold" stroke="#000" stroke-width="0.3" textLength="21.00" lengthAdjust="spacingAndGlyphs">RCL</text>
<text x="295.07" y="1172" font-size="11" font-weight="bold" stroke="#000" stroke-width="0.3" textLength="12.99" lengthAdjust="spacingAndGlyphs">64</text>
<text x="295.32" y="1195.8" font-size="11" font-weight="bold" stroke="#000" stroke-width="0.3" textLength="13.04" lengthAdjust="spacingAndGlyphs">48</text>
<line x1="312.5" y1="1169" x2="323" y2="1169" stroke="#000" stroke-width="1.5"/>
<line x1="312.5" y1="1190.3" x2="323" y2="1190.3" stroke="#000" stroke-width="1.5"/>
<line x1="451" y1="1178.3" x2="464.5" y2="1178.3" stroke="#000" stroke-width="1.4"/>
<polygon points="448.4,1178.3 455.2,1174.8 455.2,1181.8" fill="#000"/>
<text x="467.18" y="1183.6" font-size="11" font-weight="bold" stroke="#000" stroke-width="0.3" textLength="52.88" lengthAdjust="spacingAndGlyphs">S3G (flag)</text>
<text transform="translate(345.5 1158.3) rotate(-50.5)" x="-0.42" y="0" font-size="10.8" font-weight="bold" stroke="#000" stroke-width="0.3" textLength="46.74" lengthAdjust="spacingAndGlyphs">cytosolic</text>
<text transform="translate(383.5 1158.7) rotate(-50.5)" x="-0.76" y="0" font-size="10.8" font-weight="bold" stroke="#000" stroke-width="0.3" textLength="40.93" lengthAdjust="spacingAndGlyphs">nuclear</text>
<text transform="translate(419 1157.8) rotate(-50.5)" x="-0.39" y="0" font-size="10.8" font-weight="bold" stroke="#000" stroke-width="0.3" textLength="46.13" lengthAdjust="spacingAndGlyphs">secreted</text>
<text transform="translate(435.5 1160) rotate(-50.5)" x="-0.59" y="0" font-size="10.8" font-weight="bold" stroke="#000" stroke-width="0.3" textLength="42.18" lengthAdjust="spacingAndGlyphs">(media)</text>
</svg>
</body></html>
